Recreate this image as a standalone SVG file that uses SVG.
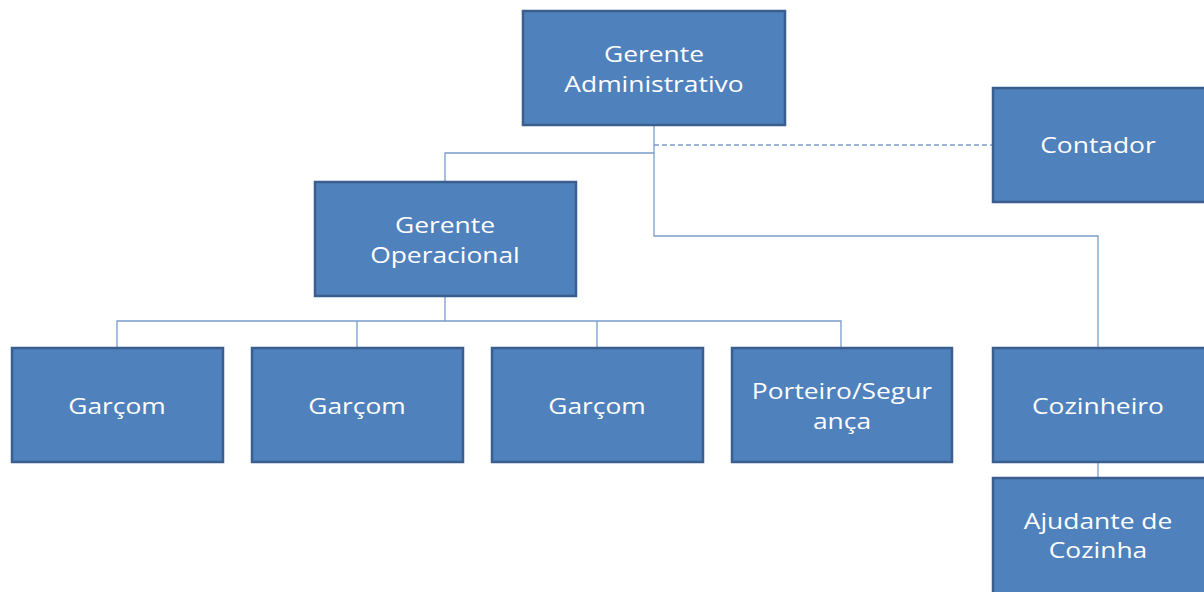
<svg xmlns="http://www.w3.org/2000/svg" width="1204" height="592" viewBox="0 0 1204 592">
<style>
.box{fill:#4F81BD;stroke:#3A5F8E;stroke-width:2.5}
.t{font-family:"Open Sans","Liberation Sans",sans-serif;font-size:22px;fill:#FFFFFF;text-anchor:middle}
.c{fill:none;stroke:#7A9CCB;stroke-width:1.3}
.d{fill:none;stroke:#7A9CCB;stroke-width:1.3;stroke-dasharray:5 3}
</style>
<rect width="1204" height="592" fill="#FFFFFF"/>
<g id="connectors">
<path class="c" d="M654 125V236H1098V347"/>
<path class="c" d="M654 153H445V181"/>
<path class="d" d="M654 145H992"/>
<path class="c" d="M445 296V321"/>
<path class="c" d="M117 347V321H841V347"/>
<path class="c" d="M357 321V347"/>
<path class="c" d="M597 321V347"/>
<path class="c" d="M1098 463V477"/>
</g>
<g id="gerente-administrativo"><rect class="box" x="523" y="11" width="262" height="114"/><g transform="translate(654 0) scale(1.2 1)"><text class="t" x="0" y="62">Gerente</text><text class="t" x="0" y="92">Administrativo</text></g></g>
<g id="contador"><rect class="box" x="993" y="88" width="214" height="114"/><g transform="translate(1098 0) scale(1.2 1)"><text class="t" x="0" y="153">Contador</text></g></g>
<g id="gerente-operacional"><rect class="box" x="315" y="182" width="261" height="114"/><g transform="translate(445 0) scale(1.2 1)"><text class="t" x="0" y="233">Gerente</text><text class="t" x="0" y="263">Operacional</text></g></g>
<g id="garcom-1"><rect class="box" x="12" y="348" width="211" height="114"/><g transform="translate(117 0) scale(1.2 1)"><text class="t" x="0" y="414">Garçom</text></g></g>
<g id="garcom-2"><rect class="box" x="252" y="348" width="211" height="114"/><g transform="translate(357 0) scale(1.2 1)"><text class="t" x="0" y="414">Garçom</text></g></g>
<g id="garcom-3"><rect class="box" x="492" y="348" width="211" height="114"/><g transform="translate(597 0) scale(1.2 1)"><text class="t" x="0" y="414">Garçom</text></g></g>
<g id="porteiro"><rect class="box" x="732" y="348" width="220" height="114"/><g transform="translate(842 0) scale(1.2 1)"><text class="t" x="0" y="399">Porteiro/Segur</text><text class="t" x="0" y="429">ança</text></g></g>
<g id="cozinheiro"><rect class="box" x="993" y="348" width="214" height="114"/><g transform="translate(1098 0) scale(1.2 1)"><text class="t" x="0" y="414">Cozinheiro</text></g></g>
<g id="ajudante"><rect class="box" x="993" y="478" width="214" height="120"/><g transform="translate(1098 0) scale(1.2 1)"><text class="t" x="0" y="529">Ajudante de</text><text class="t" x="0" y="558">Cozinha</text></g></g>
</svg>
